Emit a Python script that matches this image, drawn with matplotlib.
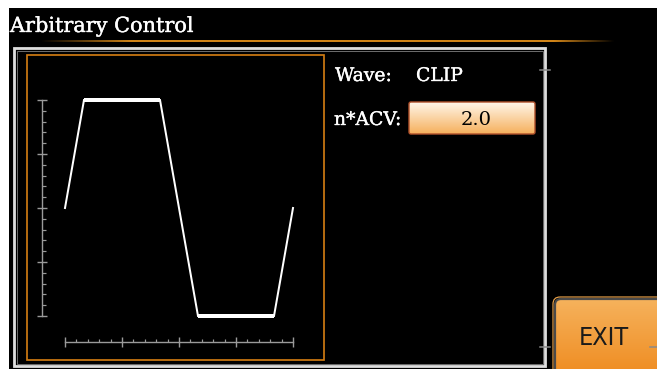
import numpy as np
import matplotlib.pyplot as plt
import matplotlib.patheffects as pe
from matplotlib.patches import Rectangle, FancyBboxPatch
from matplotlib.ticker import MultipleLocator, FixedLocator

# ---------------------------------------------------------------------------
# Values
# ---------------------------------------------------------------------------
# clipped sine: vertices of the trace (phase in degrees, level in units of ACV)
wave_phase = [0, 30, 150, 210, 330, 360]
wave_level = [0.0, 1.0, 1.0, -1.0, -1.0, 0.0]

x_major = [0, 90, 180, 270, 360]
y_major = [-1.0, -0.5, 0.0, 0.5, 1.0]

title_text = "Arbitrary Control"
wave_label = "Wave:"
wave_name = "CLIP"
acv_label = "n*ACV:"
acv_value = 2.0
button_label = "EXIT"

W, H = 657, 369
PX = 0.72          # points per pixel at dpi=100
ORANGE = "#d27c12"
TICK = "#9a9a9a"
# screen fonts look a touch heavier than plain DejaVu
heavy = [pe.withStroke(linewidth=0.25, foreground="white")]


def vgrad(ax, x0, y0, x1, y1, top, bottom, clip=None):
    # vertical colour gradient filling a box given in pixel coords
    c0 = np.array(plt.matplotlib.colors.to_rgb(top))
    c1 = np.array(plt.matplotlib.colors.to_rgb(bottom))
    t = np.linspace(0, 1, 64)[:, None, None]
    img = c0 * (1 - t) + c1 * t
    im = ax.imshow(img, extent=(x0, x1, y1, y0), origin="upper",
                   aspect="auto", interpolation="bilinear", zorder=2)
    if clip is not None:
        im.set_clip_path(clip)
    return im


fig = plt.figure(figsize=(W / 100, H / 100), dpi=100)
fig.patch.set_facecolor("white")

# ---------------------------------------------------------------------------
# Screen chrome (pixel coordinates)
# ---------------------------------------------------------------------------
bg = fig.add_axes([0, 0, 1, 1])
bg.set_xlim(0, W)
bg.set_ylim(H, 0)
bg.axis("off")

bg.add_patch(Rectangle((9, 8), W - 9, H - 8, facecolor="black", edgecolor="none", zorder=0))

bg.text(10, 32, title_text, color="white", family="DejaVu Serif",
        fontsize=15, va="baseline", ha="left", zorder=3, path_effects=heavy)

# orange rule under the title, fading at both ends
n = 400
xs = np.linspace(10, 620, n)
alpha = np.clip(np.minimum((xs - 40) / 90, (615 - xs) / 60), 0, 1)
rule = np.zeros((1, n, 4))
rule[..., :3] = plt.matplotlib.colors.to_rgb("#d08418")
rule[0, :, 3] = alpha
bg.imshow(rule, extent=(10, 620, 42, 40), aspect="auto", zorder=2)

# metallic frame around the work area
bg.add_patch(Rectangle((14, 48), 531, 318, facecolor="none",
                       edgecolor="#dedede", lw=2.8 * PX, zorder=2))
bg.add_patch(Rectangle((16.5, 50.5), 526, 313, facecolor="none",
                       edgecolor="#6a6a6a", lw=1.0 * PX, zorder=2))
for yy in (70, 347):
    bg.plot([540, 550], [yy, yy], color="#8a8a8a", lw=1.5 * PX, zorder=3)
bg.plot([650, 657], [347, 347], color="#8a8a8a", lw=1.5 * PX, zorder=3)

# orange box around the waveform
bg.add_patch(Rectangle((27, 55), 297, 305, facecolor="none",
                       edgecolor=ORANGE, lw=1.7 * PX, zorder=2))

# parameter texts
bg.text(335, 81, wave_label, color="white", family="DejaVu Serif",
        fontsize=13.5, va="baseline", ha="left", zorder=3, path_effects=heavy)
bg.text(416, 81, wave_name, color="white", family="DejaVu Serif",
        fontsize=13.5, va="baseline", ha="left", zorder=3, path_effects=heavy)
bg.text(334, 125, acv_label, color="white", family="DejaVu Serif",
        fontsize=13.5, va="baseline", ha="left", zorder=3, path_effects=heavy)

# value field
field = FancyBboxPatch((409, 102), 126, 32, boxstyle="round,pad=0,rounding_size=2",
                       facecolor="none", edgecolor="#b0502a", lw=1.4 * PX, zorder=4)
bg.add_patch(field)
vgrad(bg, 409, 102, 535, 134, "#fff6ea", "#f6b05c", clip=field)
bg.text(476, 125, f"{acv_value:.1f}", color="black", family="DejaVu Serif",
        fontsize=14, va="baseline", ha="center", zorder=5)

# EXIT button
btn = FancyBboxPatch((555, 299), 110, 80, boxstyle="round,pad=0,rounding_size=6",
                     facecolor="none", edgecolor="#4a4a4a", lw=2.2 * PX, zorder=4)
bg.add_patch(btn)
bg.add_patch(FancyBboxPatch((553, 297), 114, 84, boxstyle="round,pad=0,rounding_size=7",
                            facecolor="none", edgecolor="#e9a24a", lw=1.2 * PX, zorder=3))
vgrad(bg, 555, 299, 665, 379, "#f6b25c", "#ee8a1e", clip=btn)
bg.text(604, 345, button_label, color="#1a1a1a", family="DejaVu Sans",
        fontstretch="condensed", fontsize=18, va="baseline", ha="center", zorder=5)

bg.set_xlim(0, W)
bg.set_ylim(H, 0)

# ---------------------------------------------------------------------------
# Waveform plot
# ---------------------------------------------------------------------------
x0, x1 = 65, 293      # pixel span of phase 0..360
ytop, ybot = 100, 316  # pixel span of level +1..-1
ax = fig.add_axes([x0 / W, (H - ybot) / H, (x1 - x0) / W, (ybot - ytop) / H])
ax.set_facecolor("none")
ax.set_xlim(0, 360)
ax.set_ylim(-1, 1)

ax.plot(wave_phase, wave_level, color="white", lw=2.0 * PX, clip_on=False,
        solid_joinstyle="miter", zorder=3)
# flat (clipped) parts are drawn heavier on the instrument
for i in range(len(wave_level) - 1):
    if wave_level[i] == wave_level[i + 1]:
        ax.plot(wave_phase[i:i + 2], wave_level[i:i + 2], color="white",
                lw=4.0 * PX, clip_on=False, solid_capstyle="butt", zorder=3)

for side in ("top", "right"):
    ax.spines[side].set_visible(False)
ax.spines["left"].set_position(("outward", 23 * PX))
ax.spines["bottom"].set_position(("outward", 26 * PX))
for side in ("left", "bottom"):
    ax.spines[side].set_color(TICK)
    ax.spines[side].set_linewidth(1.4 * PX)

ax.xaxis.set_major_locator(FixedLocator(x_major))
ax.xaxis.set_minor_locator(MultipleLocator(18))
ax.yaxis.set_major_locator(FixedLocator(y_major))
ax.yaxis.set_minor_locator(MultipleLocator(0.1))
ax.tick_params(which="major", direction="inout", length=10 * PX, width=1.4 * PX,
               color=TICK, labelbottom=False, labelleft=False)
ax.tick_params(which="minor", direction="in", length=3.5 * PX, width=1.2 * PX,
               color=TICK)

fig.savefig("out.png", dpi=100, facecolor=fig.get_facecolor())
